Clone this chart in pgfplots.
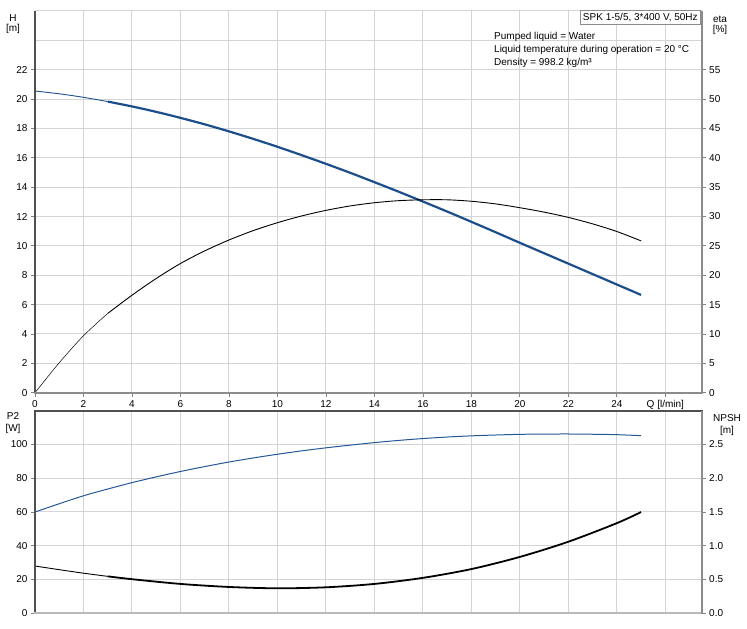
\documentclass[border=0pt]{standalone}
\usepackage{pgfplots}
\pgfplotsset{compat=1.18}
\usepackage{fontspec}
\setmainfont{Liberation Sans}

\definecolor{gridgray}{RGB}{212,212,212}
\definecolor{tickgray}{RGB}{130,130,130}
\definecolor{axdark}{RGB}{80,80,80}
\definecolor{axgray}{RGB}{140,140,140}
\definecolor{axlight}{RGB}{185,185,185}
\definecolor{hblue}{RGB}{28,78,140}
\definecolor{pblue}{RGB}{36,88,150}

\pgfplotsset{
  pumpbase/.style={
    scale only axis, width=666.7pt,
    xmin=0, xmax=27.5,
    tick label style={font=\fontsize{10}{12}\selectfont},
    /pgf/number format/assume math mode=true,
    major tick length=4pt, tick align=outside,
    tick style={draw=tickgray, line width=0.8pt},
    axis line style={draw=none},
  },
  gridon/.style={grid=major, major grid style={draw=gridgray, line width=1pt}},
}

\begin{document}
\begin{tikzpicture}
\useasboundingbox (0pt,0pt) rectangle (747pt,629pt);

% ---------- top: H and eta ----------
\begin{axis}[pumpbase, gridon, at={(35pt,236.3pt)}, anchor=south west, height=381.7pt,
  ymin=0, ymax=26,
  axis x line*=bottom, axis y line*=left,
  xtick={0,2,...,26},
  xticklabels={0,2,4,6,8,10,12,14,16,18,20,22,24,{Q [l/min]}},
  ytick={0,2,...,22},
  extra y ticks={24,26}, extra y tick labels={},
  extra y tick style={grid=major, major tick length=0pt},
  ]
  % H [m]
  \addplot[hblue, line width=0.9pt, smooth] coordinates {
    (0,20.55) (1,20.36) (2,20.12) (3,19.83)};
  \addplot[hblue, line width=2.2pt, smooth] coordinates {
    (3,19.83) (4,19.50) (5,19.13) (6,18.72) (7,18.28) (8,17.80) (9,17.29)
    (10,16.75) (11,16.18) (12,15.59) (13,14.98) (14,14.34) (15,13.69)
    (16,13.02) (17,12.34) (18,11.64) (19,10.93) (20,10.21) (21,9.50)
    (22,8.79) (23,8.08) (24,7.37) (25,6.66)};
\end{axis}
\begin{axis}[pumpbase, at={(35pt,236.3pt)}, anchor=south west, height=381.7pt,
  ymin=0, ymax=65, hide x axis, axis y line*=right,
  ytick={0,5,...,55},
  ]
  % eta [%]
  \addplot[black, line width=0.5pt, smooth] coordinates {
    (0,0) (1,5.1) (2,9.7) (3,13.5)};
  \addplot[black, line width=0.9pt, smooth] coordinates {
    (3,13.5) (4,16.6) (5,19.45) (6,22.0) (7,24.15) (8,26.0) (9,27.6)
    (10,28.95) (11,30.1) (12,31.05) (13,31.8) (14,32.35) (15,32.7)
    (16,32.85) (17,32.85) (18,32.6) (19,32.15) (20,31.5) (21,30.75)
    (22,29.85) (23,28.75) (24,27.45) (25,25.85)};
\end{axis}

% ---------- bottom: P2 and NPSH ----------
\begin{axis}[pumpbase, gridon, at={(35pt,15.7pt)}, anchor=south west, height=202.6pt,
  ymin=0, ymax=120,
  axis x line*=bottom, axis y line*=left,
  xtick={0,2,...,26}, xticklabels={}, x tick style={draw=none},
  ytick={0,20,...,100},
  extra y ticks={120}, extra y tick labels={},
  extra y tick style={grid=major, major tick length=0pt},
  ]
  % P2 [W]
  \addplot[pblue, line width=1pt, smooth] coordinates {
    (0,60) (1,64.9) (2,69.6) (3,73.6) (4,77.4) (5,80.8) (6,84.0) (7,86.9)
    (8,89.6) (9,92.0) (10,94.2) (11,96.2) (12,98.0) (13,99.6) (14,101.1)
    (15,102.4) (16,103.5) (17,104.4) (18,105.1) (19,105.6) (20,106.0)
    (21,106.15) (22,106.2) (23,106.05) (24,105.8) (25,105.2)};
\end{axis}
\begin{axis}[pumpbase, at={(35pt,15.7pt)}, anchor=south west, height=202.6pt,
  ymin=0, ymax=3, hide x axis, axis y line*=right,
  ytick={0,0.5,...,2.5},
  yticklabel style={/pgf/number format/.cd, fixed, fixed zerofill, precision=1},
  ]
  % NPSH [m]
  \addplot[black, line width=0.9pt, smooth] coordinates {
    (0,0.70) (1,0.646) (2,0.594) (3,0.547)};
  \addplot[black, line width=1.8pt, smooth] coordinates {
    (3,0.547) (4,0.505) (6,0.435) (8,0.39) (10,0.37) (12,0.385) (14,0.435)
    (16,0.525) (18,0.655) (20,0.835) (22,1.06) (24,1.335) (25,1.50)};
\end{axis}

% axis frame lines
\draw[axdark, line width=1.6pt] (35pt,236.3pt) -- (35pt,618pt);
\draw[axgray, line width=2.2pt] (34pt,236.3pt) -- (701.7pt,236.3pt);
\draw[axgray, line width=2pt] (701.7pt,235.2pt) -- (701.7pt,618pt);
\draw[axdark, line width=1.6pt] (35pt,15.7pt) -- (35pt,218.3pt);
\draw[axdark, line width=2pt] (34pt,218.3pt) -- (702.7pt,218.3pt);
\draw[axlight, line width=2pt] (34pt,15.7pt) -- (701.7pt,15.7pt);
\draw[axgray, line width=2pt] (701.7pt,14.7pt) -- (701.7pt,218.3pt);

% axis titles
\begin{scope}[font=\fontsize{10}{12}\selectfont]
\node at (13pt,611pt) {H};
\node at (13pt,600pt) {[m]};
\node at (720pt,610pt) {eta};
\node at (720pt,599pt) {[\%]};
\node at (13pt,213pt) {P2};
\node at (13pt,200pt) {[W]};
\node at (727pt,211pt) {NPSH};
\node at (727pt,198pt) {[m]};

% info box and text
\node[draw=axgray, line width=0.6pt, fill=white, inner sep=2.5pt, anchor=north east]
  at (700.5pt,619pt) {SPK 1-5/5, 3*400 V, 50Hz};
\node[anchor=west, inner sep=0pt] at (494pt,592pt) {Pumped liquid = Water};
\node[anchor=west, inner sep=0pt] at (494pt,579pt) {Liquid temperature during operation = 20 °C};
\node[anchor=west, inner sep=0pt] at (494pt,566pt) {Density = 998.2 kg/m³};
\end{scope}
\end{tikzpicture}
\end{document}
